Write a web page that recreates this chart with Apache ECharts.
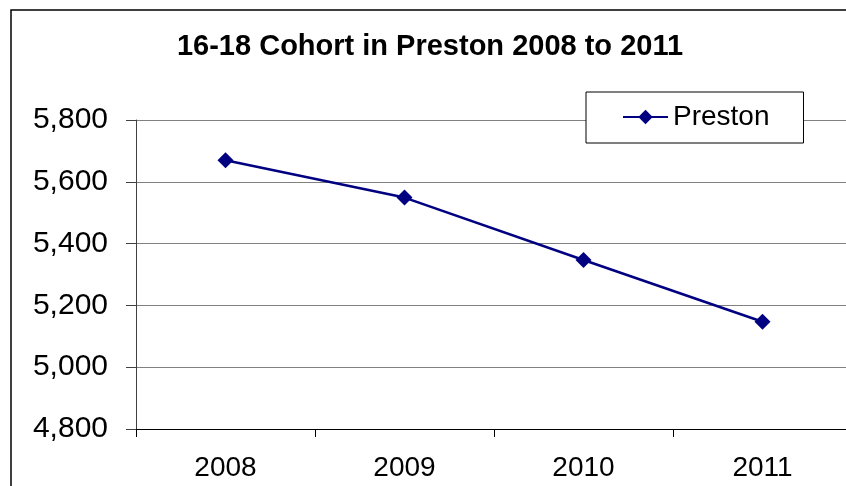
<!DOCTYPE html>
<html>
<head>
<meta charset="utf-8">
<script src="https://cdn.jsdelivr.net/npm/echarts@6/dist/echarts.min.js"></script>
<style>
  html, body { margin: 0; padding: 0; background: #fff; overflow: hidden; }
  #chart { width: 846px; height: 486px; overflow: hidden; }
</style>
</head>
<body>
<div id="chart"></div>
<script>
// data
const years = ['2008', '2009', '2010', '2011']
const preston = [5670, 5549, 5347, 5147]
const yMin = 4800
const yMax = 5800
const yStep = 200

const font = '"Liberation Sans", Arial, sans-serif'

// the plot runs a little past the right edge in the original, so draw wider and clip
const chart = echarts.init(document.getElementById('chart'), null, { width: 860, height: 486 })

const option = {
  animation: false,
  backgroundColor: '#fff',
  title: {
    text: '16-18 Cohort in Preston 2008 to 2011',
    left: 'center',
    top: 27,
    textStyle: {
      fontFamily: font,
      fontSize: 29,
      fontWeight: 'bold',
      color: '#000'
    }
  },
  legend: {
    left: 586,
    top: 92,
    padding: [10, 34, 11, 36],
    backgroundColor: '#fff',
    borderColor: '#000',
    borderWidth: 1,
    itemWidth: 45,
    itemHeight: 18,
    itemGap: 0,
    textStyle: {
      fontFamily: font,
      fontSize: 28,
      color: '#000',
      lineHeight: 30
    },
    data: ['Preston']
  },
  grid: {
    left: 136,
    top: 120,
    right: 8,
    height: 309
  },
  xAxis: {
    type: 'category',
    data: years,
    boundaryGap: true,
    axisLine: { lineStyle: { color: '#000', width: 1 } },
    axisTick: { show: true, length: 8, lineStyle: { color: '#000' } },
    axisLabel: {
      fontFamily: font,
      fontSize: 28,
      color: '#000',
      margin: 25
    },
    splitLine: { show: false }
  },
  yAxis: {
    type: 'value',
    min: yMin,
    max: yMax,
    interval: yStep,
    axisLine: { show: true, lineStyle: { color: '#404040', width: 1 } },
    axisTick: { show: true, length: 10, lineStyle: { color: '#404040' } },
    axisLabel: {
      fontFamily: font,
      fontSize: 30,
      color: '#000',
      margin: 28,
      formatter: v => v.toLocaleString('en-US')
    },
    splitLine: { lineStyle: { color: '#808080', width: 1 } }
  },
  series: [
    {
      name: 'Preston',
      type: 'line',
      data: preston,
      symbol: 'diamond',
      symbolSize: 16,
      itemStyle: { color: '#000080' },
      lineStyle: { color: '#000080', width: 2.5 }
    }
  ],
  graphic: [
    {
      type: 'rect',
      z: 100,
      silent: true,
      shape: { x: 11, y: 10, width: 900, height: 600 },
      style: { fill: null, stroke: '#000', lineWidth: 1.5 }
    }
  ]
}

chart.setOption(option)
</script>
</body>
</html>
